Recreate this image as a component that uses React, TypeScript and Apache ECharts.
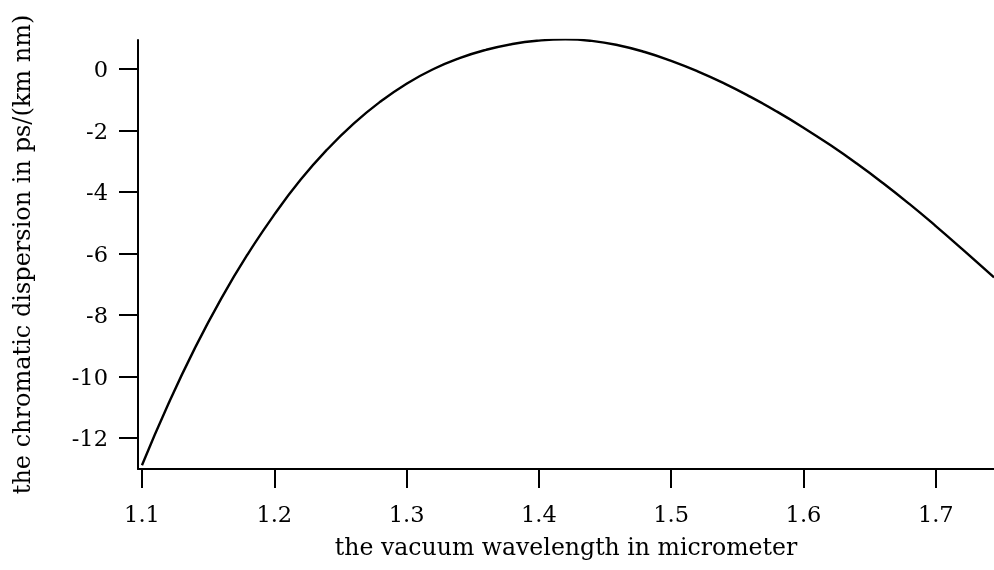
import React, { useEffect, useRef } from "react";
import * as echarts from "echarts";

const wavelengths = [
  1.1, 1.12, 1.14, 1.16, 1.18, 1.2, 1.22, 1.24, 1.26, 1.28, 1.3, 1.32, 1.34, 1.36, 1.38,
  1.4, 1.42, 1.44, 1.46, 1.48, 1.5, 1.52, 1.54, 1.56, 1.58, 1.6, 1.62, 1.64, 1.66, 1.68,
  1.7, 1.72, 1.744,
];
const dispersion = [
  -12.88, -10.88, -9.07, -7.45, -6.01, -4.73, -3.59, -2.61, -1.77, -1.06, -0.47, 0.0, 0.36, 0.63, 0.82,
  0.93, 0.97, 0.92, 0.78, 0.56, 0.27, -0.07, -0.46, -0.9, -1.38, -1.9, -2.46, -3.06, -3.7, -4.38,
  -5.1, -5.85, -6.77,
];
const xTicks = [1.1, 1.2, 1.3, 1.4, 1.5, 1.6, 1.7];
const yTicks = [-12, -10, -8, -6, -4, -2, 0];

const xName = "the vacuum wavelength in micrometer";
const yName = "the chromatic dispersion in ps/(km nm)";

export default function App() {
  const ref = useRef<HTMLDivElement>(null);
  useEffect(() => {
    if (!ref.current) return;
    const chart = echarts.init(ref.current, null, { renderer: "svg" });
    const font = "DejaVu Serif";
    chart.setOption({
      animation: false,
      grid: { left: 138, right: 0, top: 40, bottom: 101 },
      xAxis: {
        type: "value",
        min: 1.097,
        max: 1.744,
        axisLine: { show: true, onZero: false, lineStyle: { color: "#000", width: 2 } },
        axisTick: { show: true, length: 19, customValues: xTicks, lineStyle: { color: "#000", width: 2 } },
        splitLine: { show: false },
        axisLabel: {
          customValues: xTicks,
          color: "#000",
          fontFamily: font,
          fontSize: 22.5,
          margin: 33,
          formatter: (v: number) => v.toFixed(1),
        },
        name: xName,
        nameLocation: "middle",
        nameGap: 66,
        nameTextStyle: { color: "#000", fontFamily: font, fontSize: 23.6 },
      },
      yAxis: {
        type: "value",
        min: -13.0,
        max: 0.95,
        axisLine: { show: true, onZero: false, lineStyle: { color: "#000", width: 2 } },
        axisTick: { show: true, length: 19, customValues: yTicks, lineStyle: { color: "#000", width: 2 } },
        splitLine: { show: false },
        axisLabel: {
          customValues: yTicks,
          color: "#000",
          fontFamily: font,
          fontSize: 22.5,
          margin: 30,
          formatter: (v: number) => String(v),
        },
        name: yName,
        nameLocation: "middle",
        nameGap: 104,
        nameTextStyle: { color: "#000", fontFamily: font, fontSize: 24 },
      },
      series: [
        {
          type: "line",
          data: wavelengths.map((w, i) => [w, dispersion[i]]),
          showSymbol: false,
          smooth: true,
          lineStyle: { color: "#000", width: 2.4 },
        },
      ],
    });
    return () => chart.dispose();
  }, []);
  return <div ref={ref} style={{ width: 994, height: 570, position: "fixed", left: 0, top: 0 }} />;
}
